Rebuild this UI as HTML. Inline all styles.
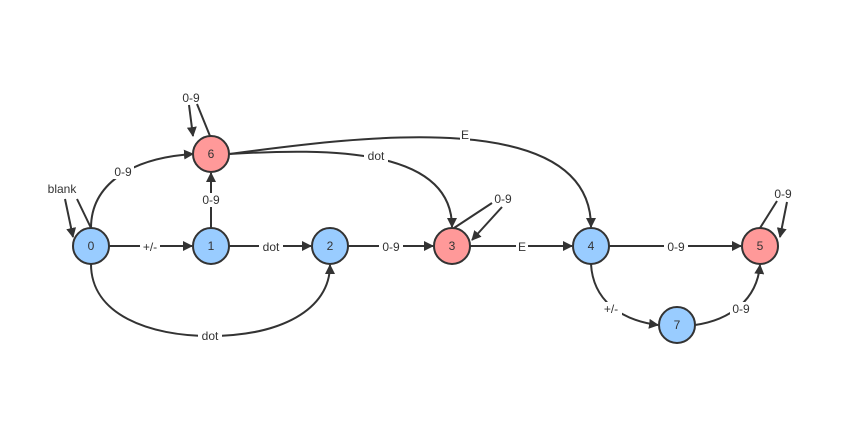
<!DOCTYPE html>
<html><head><style>body{margin:0;background:#fff}svg{display:block}text{font-family:"Liberation Sans","DejaVu Sans",sans-serif;font-size:12px;fill:#333}</style></head>
<body>
<svg width="857" height="421" viewBox="0 0 857 421" xmlns="http://www.w3.org/2000/svg">
<defs><marker id="a" markerWidth="10" markerHeight="10" refX="9" refY="5" orient="auto" markerUnits="userSpaceOnUse"><path d="M0,0 L10,5 L0,10 Z" fill="#333"/></marker></defs>
<g fill="none" stroke="#333" stroke-width="2">
<line x1="91" y1="228" x2="77" y2="199"/>
<line x1="65" y1="199" x2="73" y2="237" marker-end="url(#a)"/>
<path d="M91,228 C91,185 130,158 193,154" marker-end="url(#a)"/>
<line x1="109" y1="246" x2="192" y2="246" marker-end="url(#a)"/>
<line x1="211" y1="228" x2="211" y2="173" marker-end="url(#a)"/>
<line x1="229" y1="246" x2="311" y2="246" marker-end="url(#a)"/>
<line x1="348" y1="246" x2="433" y2="246" marker-end="url(#a)"/>
<path d="M91,264 C91,315 150,336 210,336 C280,336 330,310 330,265" marker-end="url(#a)"/>
<line x1="210" y1="136" x2="197" y2="104"/>
<line x1="189" y1="105" x2="193" y2="136" marker-end="url(#a)"/>
<path d="M229,154 C330,148 452,148 452,227" marker-end="url(#a)"/>
<path d="M229,154 C350,138 591,104 591,227" marker-end="url(#a)"/>
<line x1="454" y1="228" x2="492" y2="203"/>
<line x1="502" y1="207" x2="472" y2="240" marker-end="url(#a)"/>
<line x1="470" y1="246" x2="572" y2="246" marker-end="url(#a)"/>
<line x1="609" y1="246" x2="741" y2="246" marker-end="url(#a)"/>
<path d="M591,264 C593,300 620,320 658,325" marker-end="url(#a)"/>
<path d="M695,325 C730,320 757,300 760,265" marker-end="url(#a)"/>
<line x1="760" y1="228" x2="777" y2="201"/>
<line x1="787" y1="202" x2="780" y2="237" marker-end="url(#a)"/>
</g>
<g stroke="#333" stroke-width="2">
<circle cx="91" cy="246" r="18" fill="#99ccff"/>
<circle cx="211" cy="246" r="18" fill="#99ccff"/>
<circle cx="330" cy="246" r="18" fill="#99ccff"/>
<circle cx="452" cy="246" r="18" fill="#ff9999"/>
<circle cx="591" cy="246" r="18" fill="#99ccff"/>
<circle cx="760" cy="246" r="18" fill="#ff9999"/>
<circle cx="211" cy="154" r="18" fill="#ff9999"/>
<circle cx="677" cy="325" r="18" fill="#99ccff"/>
</g>
<g text-anchor="middle" font-size="12">
<text x="91" y="250">0</text><text x="211" y="250">1</text><text x="330" y="250">2</text><text x="452" y="250">3</text>
<text x="591" y="250">4</text><text x="760" y="250">5</text><text x="211" y="158">6</text><text x="677" y="329">7</text>
</g>
<g fill="#fff">
<rect x="112" y="165" width="22" height="14"/><rect x="140" y="240" width="20" height="13"/>
<rect x="200" y="193" width="22" height="14"/><rect x="259" y="240" width="24" height="13"/>
<rect x="379" y="240" width="24" height="13"/><rect x="198" y="329" width="24" height="14"/>
<rect x="364" y="149" width="24" height="14"/><rect x="460" y="128" width="10" height="14"/>
<rect x="516" y="240" width="12" height="13"/><rect x="664" y="240" width="24" height="13"/>
<rect x="600" y="302" width="22" height="14"/><rect x="730" y="302" width="22" height="14"/>
</g>
<g text-anchor="middle">
<text x="62" y="193">blank</text><text x="123" y="176">0-9</text><text x="150" y="251">+/-</text>
<text x="211" y="204">0-9</text><text x="271" y="251">dot</text><text x="391" y="251">0-9</text>
<text x="210" y="340">dot</text><text x="191" y="102">0-9</text><text x="376" y="160">dot</text>
<text x="465" y="139">E</text><text x="503" y="203">0-9</text><text x="522" y="251">E</text>
<text x="676" y="251">0-9</text><text x="611" y="313">+/-</text><text x="741" y="313">0-9</text>
<text x="783" y="198">0-9</text>
</g>
</svg>
</body></html>
